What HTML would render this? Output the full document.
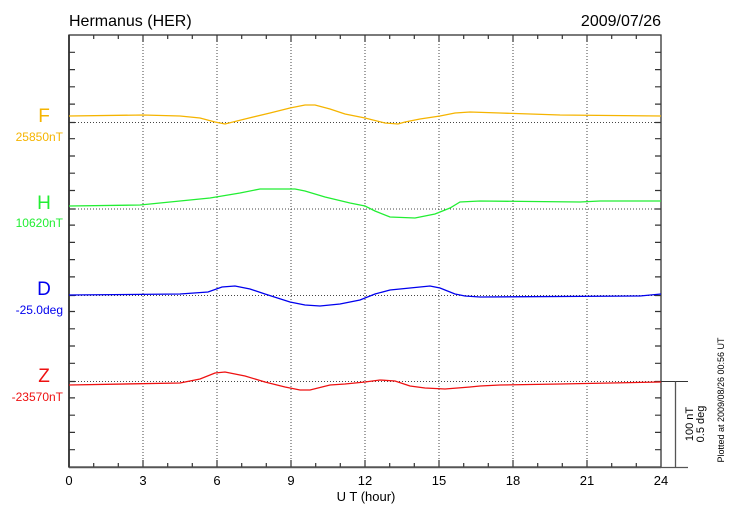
<!DOCTYPE html>
<html><head><meta charset="utf-8"><style>
html,body{margin:0;padding:0;background:#fff;}
svg{display:block;font-family:"Liberation Sans",sans-serif;}
</style></head><body>
<svg width="730" height="520" xmlns="http://www.w3.org/2000/svg">
<text x="69" y="26" font-size="16" fill="#000">Hermanus (HER)</text>
<text x="661" y="26" font-size="16" fill="#000" text-anchor="end">2009/07/26</text>
<g stroke="#444" stroke-width="1" stroke-dasharray="1,2">
<line x1="143" y1="35" x2="143" y2="467"/><line x1="217" y1="35" x2="217" y2="467"/>
<line x1="291" y1="35" x2="291" y2="467"/><line x1="365" y1="35" x2="365" y2="467"/>
<line x1="439" y1="35" x2="439" y2="467"/><line x1="513" y1="35" x2="513" y2="467"/>
<line x1="587" y1="35" x2="587" y2="467"/>
<line x1="69" y1="122.5" x2="661" y2="122.5"/><line x1="69" y1="209" x2="661" y2="209"/>
<line x1="69" y1="295.5" x2="661" y2="295.5"/><line x1="69" y1="381.5" x2="661" y2="381.5"/>
</g>
<path stroke="#333" stroke-width="1.2" fill="none" d="
M93.7 467v-4M118.3 467v-4M143 467v-7M167.7 467v-4M192.3 467v-4M217 467v-7M241.7 467v-4M266.3 467v-4M291 467v-7M315.7 467v-4M340.3 467v-4M365 467v-7M389.7 467v-4M414.3 467v-4M439 467v-7M463.7 467v-4M488.3 467v-4M513 467v-7M537.7 467v-4M562.3 467v-4M587 467v-7M611.7 467v-4M636.3 467v-4
M93.7 35v4M118.3 35v4M143 35v7M167.7 35v4M192.3 35v4M217 35v7M241.7 35v4M266.3 35v4M291 35v7M315.7 35v4M340.3 35v4M365 35v7M389.7 35v4M414.3 35v4M439 35v7M463.7 35v4M488.3 35v4M513 35v7M537.7 35v4M562.3 35v4M587 35v7M611.7 35v4M636.3 35v4
M69 52.3h6M69 69.6h6M69 86.8h6M69 104.1h6M69 122.5h6M69 138.7h6M69 156h6M69 173.2h6M69 190.5h6M69 209h6M69 225.1h6M69 242.4h6M69 259.6h6M69 276.9h6M69 295.5h6M69 311.5h6M69 328.8h6M69 346h6M69 363.3h6M69 381.5h6M69 397.9h6M69 415.2h6M69 432.4h6M69 449.7h6
M661 52.3h-6M661 69.6h-6M661 86.8h-6M661 104.1h-6M661 122.5h-6M661 138.7h-6M661 156h-6M661 173.2h-6M661 190.5h-6M661 209h-6M661 225.1h-6M661 242.4h-6M661 259.6h-6M661 276.9h-6M661 295.5h-6M661 311.5h-6M661 328.8h-6M661 346h-6M661 363.3h-6M661 381.5h-6M661 397.9h-6M661 415.2h-6M661 432.4h-6M661 449.7h-6"/>
<rect x="69" y="35" width="592" height="432" fill="none" stroke="#333" stroke-width="1.3"/>
<line x1="69" y1="35" x2="69" y2="467.5" stroke="#333" stroke-width="1.8"/>
<line x1="69" y1="467.5" x2="661" y2="467.5" stroke="#555" stroke-width="1.6"/>
<line x1="661" y1="381.5" x2="688" y2="381.5" stroke="#333"/>
<line x1="675.5" y1="381.5" x2="675.5" y2="467" stroke="#555" stroke-width="1.3"/>
<line x1="661" y1="467.5" x2="688" y2="467.5" stroke="#555" stroke-width="1.3"/>
<text transform="translate(693,424) rotate(-90)" font-size="11" text-anchor="middle">100 nT</text>
<text transform="translate(704,424) rotate(-90)" font-size="11" text-anchor="middle">0.5 deg</text>
<text transform="translate(724,400) rotate(-90)" font-size="9" text-anchor="middle">Plotted at 2009/08/26 00:56 UT</text>
<g fill="none" stroke-width="1.3">
<polyline stroke="#f5b400" points="69,116 143,115 180,116 200,118 215,122 225,124 245,119 270,113 290,108 305,105 315,105 330,109 345,114 365,118 385,123 398,124 405,122 420,119 440,116 455,113 470,112 500,113 560,115 661,116"/>
<polyline stroke="#22ee33" points="69,206 140,205 180,201 210,198 240,193 260,189 280,189 295,189 305,191 325,197 350,203 365,206 375,211 390,217 415,218 435,214 450,208 460,202 480,201 580,202 600,201 661,201"/>
<polyline stroke="#0000ee" points="69,295 180,294 208,292 222,287 235,286 250,289 265,294 290,302 305,305 320,306 340,304 360,300 375,294 390,290 410,288 430,286 440,288 455,294 465,296 480,297 640,296 661,294"/>
<polyline stroke="#ee1111" points="69,385 180,383 200,379 215,373 225,372 245,376 265,382 285,387 300,390 310,390 330,385 345,384 365,382 380,380 395,381 410,386 425,388 445,389 470,387 480,386 500,385 560,384 661,382"/>
</g>
<text x="44" y="122" font-size="19" fill="#f5b400" text-anchor="middle">F</text>
<text x="63" y="141" font-size="12" fill="#f5b400" text-anchor="end">25850nT</text>
<text x="44" y="209" font-size="19" fill="#22ee33" text-anchor="middle">H</text>
<text x="63" y="227" font-size="12" fill="#22ee33" text-anchor="end">10620nT</text>
<text x="44" y="295" font-size="19" fill="#0000ee" text-anchor="middle">D</text>
<text x="63" y="314" font-size="12" fill="#0000ee" text-anchor="end">-25.0deg</text>
<text x="44" y="382" font-size="19" fill="#ee1111" text-anchor="middle">Z</text>
<text x="63" y="401" font-size="12" fill="#ee1111" text-anchor="end">-23570nT</text>
<g font-size="13" text-anchor="middle" fill="#000">
<text x="69" y="485">0</text><text x="143" y="485">3</text><text x="217" y="485">6</text>
<text x="291" y="485">9</text><text x="365" y="485">12</text><text x="439" y="485">15</text>
<text x="513" y="485">18</text><text x="587" y="485">21</text><text x="661" y="485">24</text>
<text x="366" y="501">U T (hour)</text>
</g>
</svg>
</body></html>
